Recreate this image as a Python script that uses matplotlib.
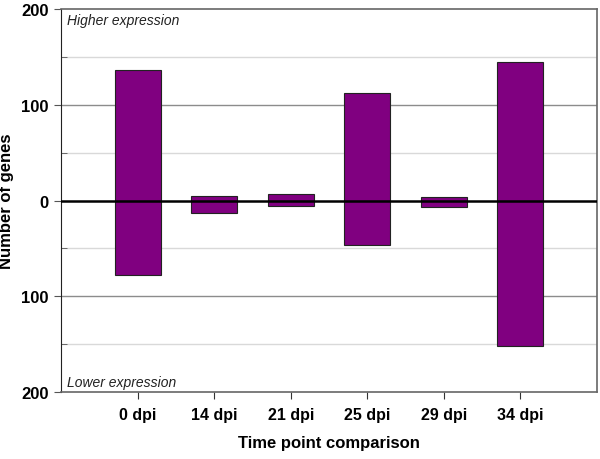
import matplotlib
matplotlib.use("Agg")
import matplotlib.pyplot as plt
from matplotlib.ticker import FixedLocator

categories = ["0 dpi", "14 dpi", "21 dpi", "25 dpi", "29 dpi", "34 dpi"]
higher = [136, 5, 7, 112, 4, 145]
lower = [78, 13, 6, 46, 7, 152]
ytick_vals = [-200, -100, 0, 100, 200]
ytick_labels = ["200", "100", "0", "100", "200"]

plt.rcParams['font.family'] = ['Liberation Sans', 'DejaVu Sans']

fig = plt.figure(figsize=(6, 4.6), dpi=100)
ax = fig.add_axes([61/600, 67/460, 536/600, 383/460])

x = list(range(1, len(categories) + 1))
ax.bar(x, higher, width=0.6, color="#800080", edgecolor="#222222", linewidth=0.8, zorder=3)
ax.bar(x, [-v for v in lower], width=0.6, color="#800080", edgecolor="#222222", linewidth=0.8, zorder=3)

ax.set_xlim(0, 7)
ax.set_ylim(-200, 200)
for yv in [-150, -50, 50, 150]:
    ax.axhline(yv, color="#d9d9d9", linewidth=1, zorder=1)
for yv in [-100, 100]:
    ax.axhline(yv, color="#8c8c8c", linewidth=1, zorder=1)
ax.axhline(0, color="black", linewidth=1.8, zorder=4)

ax.set_yticks(ytick_vals)
ax.set_yticklabels(ytick_labels, fontsize=12, fontweight="bold")
ax.yaxis.set_minor_locator(FixedLocator([-150, -50, 50, 150]))
ax.tick_params(axis="y", which="major", direction="out", length=5, color="#555555", pad=4)
ax.tick_params(axis="y", which="minor", direction="in", length=4, color="#555555")
ax.set_xticks(x)
ax.set_xticklabels(categories, fontsize=11.5, fontweight="bold")
ax.tick_params(axis="x", direction="out", length=5, color="#333333", pad=6)

for s in ["top", "right", "bottom"]:
    ax.spines[s].set_color("#666666")
    ax.spines[s].set_linewidth(1.2)
ax.spines["left"].set_color("#222222")

ax.set_xlabel("Time point comparison", fontsize=12, fontweight="bold", labelpad=9)
ax.set_ylabel("Number of genes", fontsize=12, fontweight="bold", labelpad=5)

ax.text(0.012, 0.99, "Higher expression", transform=ax.transAxes, fontsize=10,
        style="italic", va="top", ha="left", color="#222222")
ax.text(0.012, 0.007, "Lower expression", transform=ax.transAxes, fontsize=10,
        style="italic", va="bottom", ha="left", color="#222222")

fig.savefig("out.png", dpi=100)
